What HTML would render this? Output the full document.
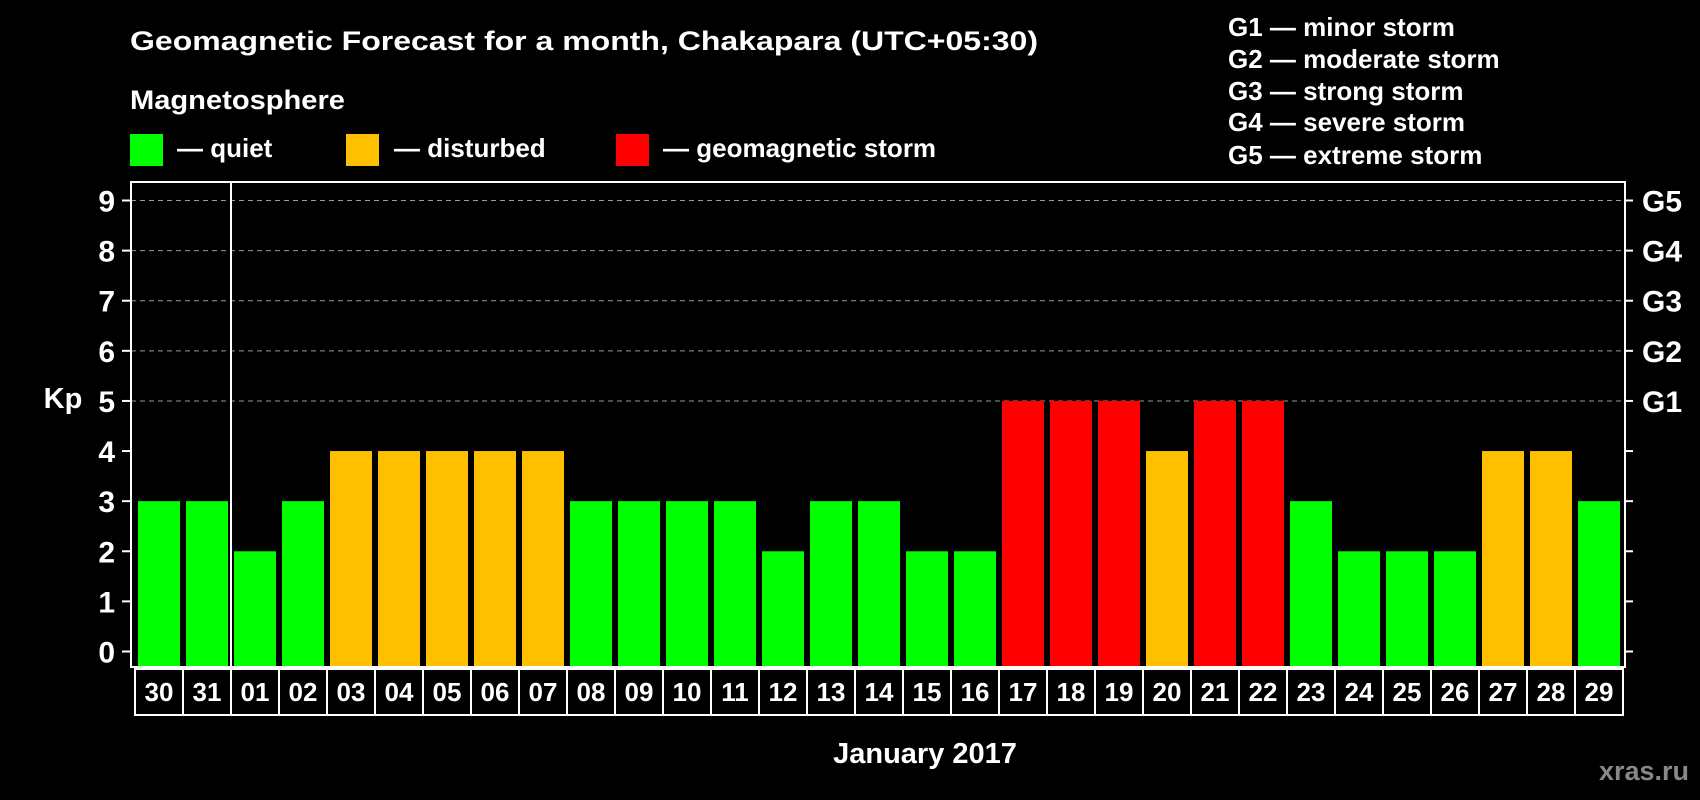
<!DOCTYPE html>
<html><head><meta charset="utf-8"><style>
html,body{margin:0;padding:0;background:#000;}
svg{display:block;font-family:"Liberation Sans",Arial,sans-serif;font-weight:bold;}
</style></head><body>
<svg width="1700" height="800" viewBox="0 0 1700 800">
<text x="130" y="50" fill="#fff" font-size="27" textLength="908" lengthAdjust="spacingAndGlyphs">Geomagnetic Forecast for a month, Chakapara (UTC+05:30)</text>
<text x="130" y="109" fill="#fff" font-size="27" textLength="215" lengthAdjust="spacingAndGlyphs">Magnetosphere</text>
<rect x="130" y="134" width="33" height="32" fill="#00ff00"/>
<text x="177" y="157" fill="#fff" font-size="26">— quiet</text>
<rect x="346" y="134" width="33" height="32" fill="#ffc000"/>
<text x="394" y="157" fill="#fff" font-size="26">— disturbed</text>
<rect x="616" y="134" width="33" height="32" fill="#ff0000"/>
<text x="663" y="157" fill="#fff" font-size="26">— geomagnetic storm</text>
<g fill="#fff" font-size="26">
<text x="1228" y="36">G1 — minor storm</text>
<text x="1228" y="68">G2 — moderate storm</text>
<text x="1228" y="100">G3 — strong storm</text>
<text x="1228" y="131">G4 — severe storm</text>
<text x="1228" y="164">G5 — extreme storm</text>
</g>
<text x="63" y="408" fill="#fff" font-size="29" text-anchor="middle">Kp</text>
<g id="plot"></g>
<text x="925" y="763" fill="#fff" font-size="29" text-anchor="middle">January 2017</text>
<text x="1689" y="780" fill="#888" font-size="27" text-anchor="end">xras.ru</text>
</svg>
<script>
const days=["30","31","01","02","03","04","05","06","07","08","09","10","11","12","13","14","15","16","17","18","19","20","21","22","23","24","25","26","27","28","29"];
const kp=[3,3,2,3,4,4,4,4,4,3,3,3,3,2,3,3,2,2,5,5,5,4,5,5,3,2,2,2,4,4,3];
const yTicks=[0,1,2,3,4,5,6,7,8,9];
const gLabels=["G1","G2","G3","G4","G5"];
const NS="http://www.w3.org/2000/svg";
const g=document.getElementById('plot');
const L=131,R=1625,T=182,B=667,slot0=135,slotW=48;
const y=v=>651.5-v*(651.5-200.5)/9;
const x=i=>slot0+i*slotW;
function mk(t,a){const e=document.createElementNS(NS,t);for(const k in a)e.setAttribute(k,a[k]);g.appendChild(e);return e;}
yTicks.forEach(v=>{
 if(v>=5){const l=mk('line',{x1:L,x2:R,y1:y(v),y2:y(v),stroke:'#999','stroke-dasharray':'5,4','stroke-width':1});
 
 }
 const t1=mk('line',{x1:122,x2:L,y1:y(v),y2:y(v),stroke:'#fff','stroke-width':2});
 
 
 const t2=mk('line',{x1:R,x2:1633,y1:y(v),y2:y(v),stroke:'#fff','stroke-width':2});
 
 
 const tx=mk('text',{x:115,y:y(v)+11,fill:'#fff','font-size':30,'text-anchor':'end'});
 tx.textContent=v;
 
 
});
gLabels.forEach((s,i)=>{
 const tx=mk('text',{x:1642,y:y(5+i)+11,fill:'#fff','font-size':30});
 tx.textContent=s;
 
 
});
kp.forEach((v,i)=>{
 const c=v>=5?'#ff0000':(v>=4?'#ffc000':'#00ff00');
 const r=mk('rect',{x:x(i)+3,y:y(v),width:42,height:B-y(v)-1,fill:c});
 
 
 const b=mk('rect',{x:x(i),y:669,width:slotW,height:46,fill:'none',stroke:'#fff','stroke-width':2});
 
 
 const t=mk('text',{x:x(i)+slotW/2,y:701,fill:'#fff','font-size':26,'text-anchor':'middle'});
 t.textContent=days[i];
 
 
});
const fr=mk('rect',{x:L,y:T,width:R-L,height:B-T,fill:'none',stroke:'#fff','stroke-width':2});


const ms=days.indexOf("01");
const ml=mk('line',{x1:x(ms),x2:x(ms),y1:T,y2:B,stroke:'#fff','stroke-width':2});


</script>
</body></html>
